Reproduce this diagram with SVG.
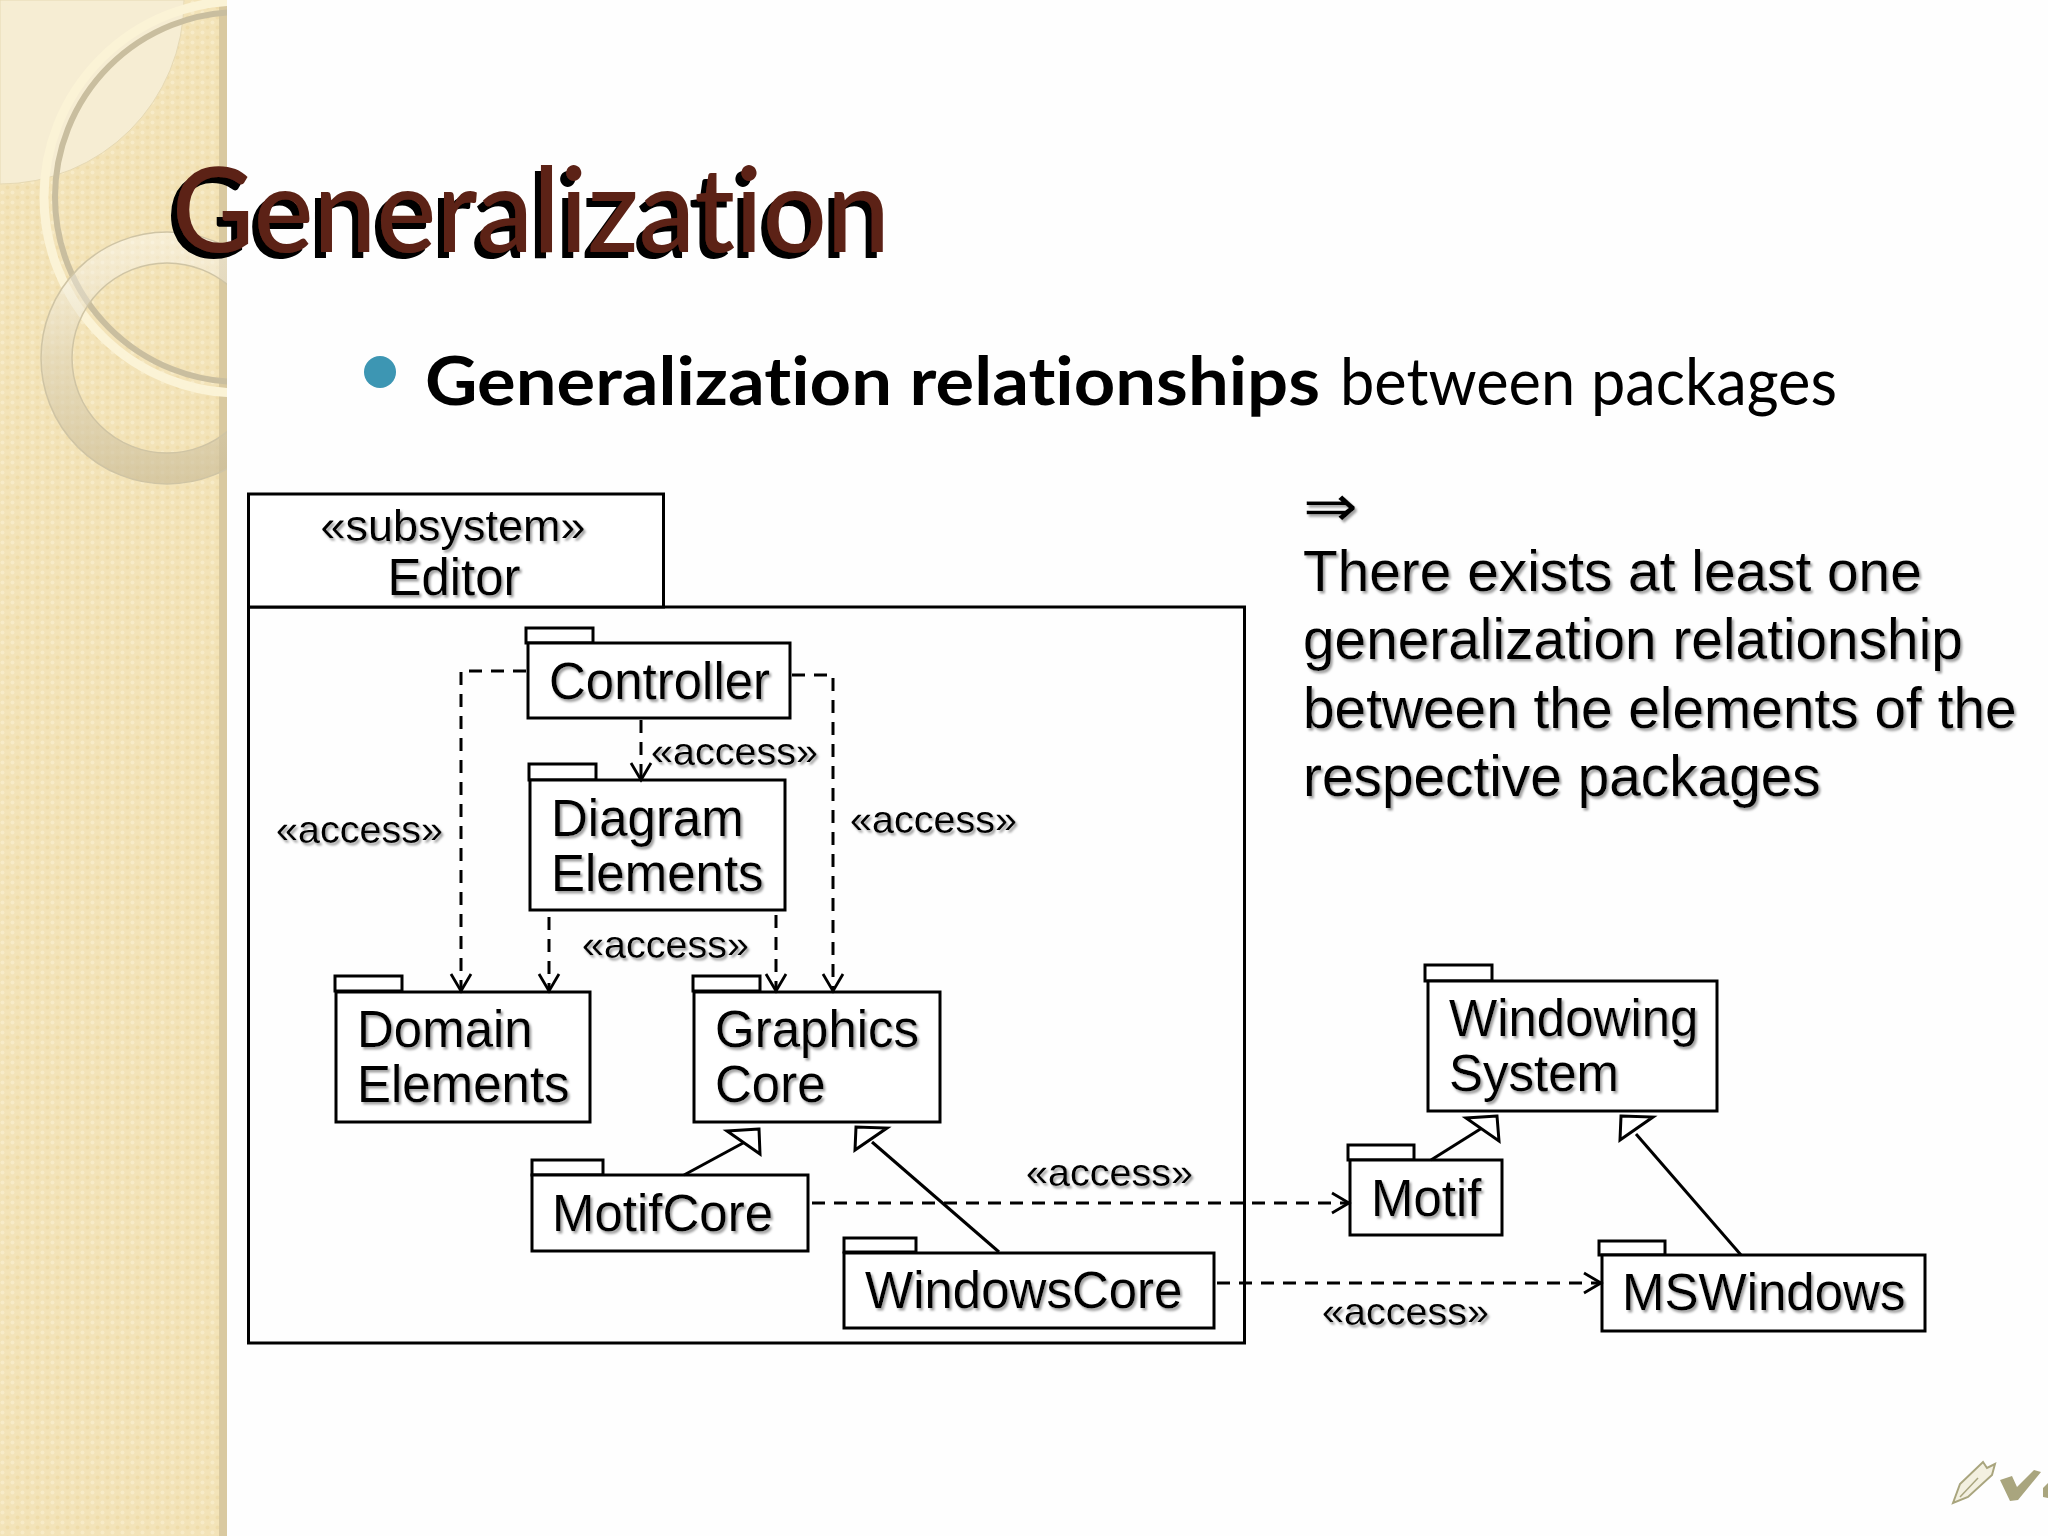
<svg xmlns="http://www.w3.org/2000/svg" width="2048" height="1536" viewBox="0 0 2048 1536">
<defs>
<pattern id="weave" width="10" height="10" patternUnits="userSpaceOnUse"><rect width="10" height="10" fill="#f3e3b8"/><circle cx="2.5" cy="2.5" r="2" fill="#f7ebc8"/><circle cx="7.5" cy="7.5" r="2" fill="#efdcaa"/></pattern>
<linearGradient id="ringFill" x1="0" y1="0" x2="0" y2="1"><stop offset="0" stop-color="#ffffff" stop-opacity=".4"/><stop offset=".5" stop-color="#ddd3b8" stop-opacity=".55"/><stop offset="1" stop-color="#c8ba96" stop-opacity=".65"/></linearGradient>
<filter id="sh" x="-5%" y="-10%" width="110%" height="125%"><feDropShadow dx="2" dy="2.500" stdDeviation=".8" flood-color="#a0a0a0"/></filter>
<filter id="titleSh" x="-5%" y="-10%" width="110%" height="125%"><feDropShadow dx="-6" dy="6" stdDeviation="0" flood-color="#000"/></filter>
<clipPath id="band"><rect width="227" height="1536"/></clipPath>
<marker id="open" viewBox="-20 -12 24 24" markerUnits="userSpaceOnUse" markerWidth="24" markerHeight="24" orient="auto"><path d="M-17,-10 L0,0 L-17,10" fill="none" stroke="#000" stroke-width="2.800"/></marker>
</defs>
<style>
.t{font-family:"Liberation Sans",Arial,sans-serif;fill:#000;filter:url(#sh)}
.n{font-size:51px}
.a{font-size:39.500px}
.r{font-size:56.800px}
.b{fill:#fff;stroke:#000;stroke-width:3}
.d{fill:none;stroke:#000;stroke-width:3;stroke-dasharray:13 9}
.g{fill:none;stroke:#000;stroke-width:3}
.h{fill:#fff;stroke:#000;stroke-width:3}
.gill{font-family:Lato,"Open Sans",sans-serif;font-variant-ligatures:none}
</style>
<rect width="2048" height="1536" fill="#fefefe"/>
<g id="background">
<rect width="227" height="1536" fill="url(#weave)"/>
<rect x="219" width="8" height="1536" fill="#d9c9a0"/>
<g clip-path="url(#band)">
<path d="M0 0H184A184 184 0 0 1 0 184Z" fill="#f6edd3" stroke="#e6d9b4"/>
<circle cx="240" cy="197" r="196" fill="none" stroke="#fbf3d6" stroke-width="9"/>
<circle cx="240" cy="197" r="185" fill="none" stroke="#c9be9f" stroke-width="6"/>
<path fill-rule="evenodd" d="M41 358a126 126 0 1 0 252 0a126 126 0 1 0-252 0ZM72 358a95 95 0 1 0 190 0a95 95 0 1 0-190 0Z" fill="url(#ringFill)" stroke="#cfc4a4" stroke-width="1.500"/>
</g>
</g>
<g id="title"><text class="gill" x="172" y="252" font-size="118" font-weight="500" fill="#5c2317" filter="url(#titleSh)" textLength="718" lengthAdjust="spacingAndGlyphs">Generalization</text></g>
<g id="bullet">
<circle cx="380" cy="372" r="16" fill="#3d96b3"/>
<text class="gill" x="425" y="405" font-size="66" fill="#000"><tspan font-weight="700" textLength="895" lengthAdjust="spacingAndGlyphs">Generalization relationships</tspan></text>
<text class="gill" x="1340" y="405" font-size="66" fill="#000" textLength="497" lengthAdjust="spacingAndGlyphs">between packages</text>
</g>
<g id="editor">
<rect class="b" x="248.500" y="607" width="996" height="736" style="fill:none"/>
<rect class="b" x="248.500" y="494" width="415" height="113"/>
<text class="t" x="453" y="541" font-size="45" text-anchor="middle">«subsystem»</text>
<text class="t n" x="454" y="595" text-anchor="middle">Editor</text>
</g>
<g id="controller"><rect class="b" x="526" y="628" width="67" height="15"/><rect class="b" x="528" y="643" width="262" height="75"/><text class="t n" x="549" y="699">Controller</text></g>
<g id="diagram-elements"><rect class="b" x="529" y="764" width="67" height="16"/><rect class="b" x="530" y="780" width="255" height="130"/><text class="t n" x="551" y="836">Diagram</text><text class="t n" x="551" y="891">Elements</text></g>
<g id="domain-elements"><rect class="b" x="335" y="976" width="67" height="15"/><rect class="b" x="336" y="992" width="254" height="130"/><text class="t n" x="357" y="1047">Domain</text><text class="t n" x="357" y="1102">Elements</text></g>
<g id="graphics-core"><rect class="b" x="693" y="976" width="67" height="15"/><rect class="b" x="694" y="992" width="246" height="130"/><text class="t n" x="715" y="1047">Graphics</text><text class="t n" x="715" y="1102">Core</text></g>
<g id="motif-core"><rect class="b" x="532" y="1160" width="71" height="15"/><rect class="b" x="532" y="1175" width="276" height="76"/><text class="t n" x="552" y="1231">MotifCore</text></g>
<g id="windows-core"><rect class="b" x="844" y="1238" width="72" height="14"/><rect class="b" x="844" y="1253" width="370" height="75"/><text class="t n" x="865" y="1308">WindowsCore</text></g>
<g id="windowing-system"><rect class="b" x="1425" y="965" width="67" height="16"/><rect class="b" x="1428" y="981" width="289" height="130"/><text class="t n" x="1449" y="1036">Windowing</text><text class="t n" x="1449" y="1091">System</text></g>
<g id="motif"><rect class="b" x="1348" y="1145" width="66" height="15"/><rect class="b" x="1350" y="1160" width="152" height="75"/><text class="t n" x="1371" y="1216">Motif</text></g>
<g id="mswindows"><rect class="b" x="1599" y="1241" width="66" height="14"/><rect class="b" x="1602" y="1255" width="323" height="76"/><text class="t n" x="1622" y="1310">MSWindows</text></g>
<g id="connectors">
<path class="d" marker-end="url(#open)" d="M526 671H461V991"/>
<path class="d" marker-end="url(#open)" d="M792 675H833V991"/>
<path class="d" marker-end="url(#open)" d="M641 720V780"/>
<path class="d" marker-end="url(#open)" d="M549 917V991"/>
<path class="d" marker-end="url(#open)" d="M776 915V991"/>
<path class="d" marker-end="url(#open)" d="M812 1203H1349"/>
<path class="d" marker-end="url(#open)" d="M1217 1283H1601"/>
<path class="g" d="M684 1175L744 1142.500"/><path class="h" d="M759 1129L727 1131L760 1154Z"/>
<path class="g" d="M999 1252L872 1142"/><path class="h" d="M855 1150L856 1127L887 1128Z"/>
<path class="g" d="M1431 1160L1482 1128"/><path class="h" d="M1497 1116L1466 1118L1499 1141Z"/>
<path class="g" d="M1741 1255L1636 1134"/><path class="h" d="M1621 1116L1653 1117L1620 1140Z"/>
</g>
<g id="labels">
<text class="t a" x="276" y="843">«access»</text>
<text class="t a" x="651" y="765">«access»</text>
<text class="t a" x="850" y="833">«access»</text>
<text class="t a" x="582" y="958">«access»</text>
<text class="t a" x="1026" y="1186">«access»</text>
<text class="t a" x="1322" y="1325">«access»</text>
</g>
<g id="note">
<text class="t" x="1303" y="526" font-size="58" style="font-family:'DejaVu Sans',sans-serif" textLength="55" lengthAdjust="spacingAndGlyphs">⇒</text>
<text class="t r" x="1303" y="591">There exists at least one</text>
<text class="t r" x="1303" y="659">generalization relationship</text>
<text class="t r" x="1303" y="728">between the elements of the</text>
<text class="t r" x="1303" y="796">respective packages</text>
</g>
<g id="logo" fill="#a9a57e">
<path d="M1953 1503L1960 1484L1983 1462L1987 1468L1995 1464L1992 1475L1968 1497Z" fill="#f3f0e0" stroke="#a9a57e" stroke-width="2"/>
<path d="M1960 1497L1978 1478" fill="none" stroke="#a9a57e" stroke-width="1.500"/>
<path d="M2000 1480L2012 1476L2017 1487L2034 1470L2041 1472L2018 1500L2010 1501Z"/>
<path d="M2043 1488L2048 1483V1498L2043 1497Z"/>
</g>
</svg>
